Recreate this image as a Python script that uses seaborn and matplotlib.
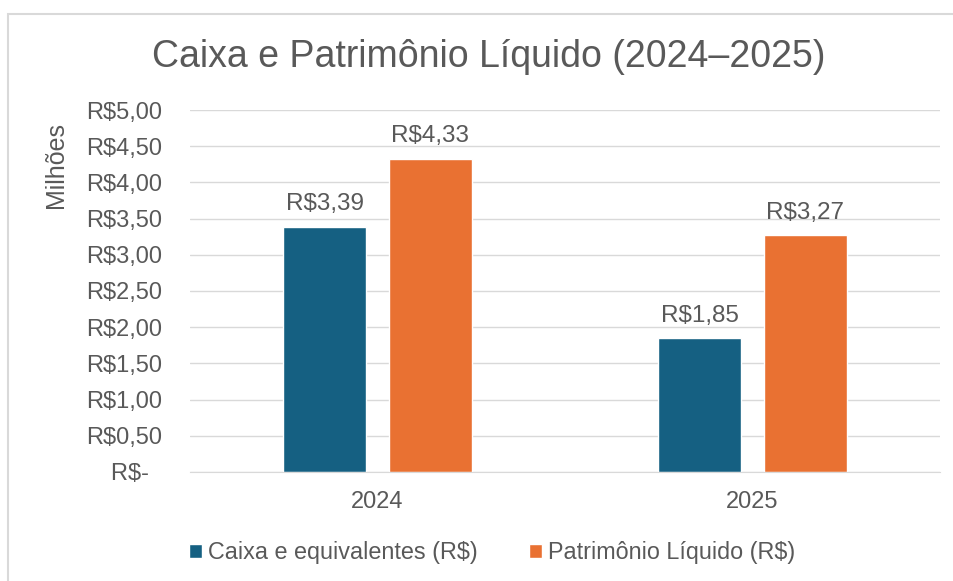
import pandas as pd
import seaborn as sns
import matplotlib.pyplot as plt
from matplotlib.patches import Rectangle
from matplotlib.ticker import FuncFormatter, MultipleLocator

# data (milhões de R$)
anos = ['2024', '2025']
series = ['Caixa e equivalentes (R$)', 'Patrimônio Líquido (R$)']
caixa = [3.39, 1.85]
patrimonio = [4.33, 3.27]
cores = ['#156082', '#E97132']

df = pd.DataFrame({
    'ano': anos * 2,
    'serie': [series[0]] * 2 + [series[1]] * 2,
    'valor': caixa + patrimonio,
})

sns.set_style('white')
plt.rcParams['font.family'] = ['Liberation Sans', 'DejaVu Sans']
cinza = '#595959'

fig = plt.figure(figsize=(9.54, 5.81), dpi=100)
ax = fig.add_axes([190 / 954, 1 - 472 / 581, 750 / 954, 362 / 581])

sns.barplot(data=df, x='ano', y='valor', hue='serie', palette=cores,
            width=0.565, gap=0.217, ax=ax, saturation=1, legend=True)


def brl(v, pos=None):
    if abs(v) < 1e-9:
        return 'R$-  '
    return 'R$' + f'{v:.2f}'.replace('.', ',')


ax.set_ylim(0, 5)
ax.yaxis.set_major_locator(MultipleLocator(0.5))
ax.yaxis.set_major_formatter(FuncFormatter(brl))
ax.grid(axis='y', color='#d9d9d9', linewidth=1)
ax.set_axisbelow(True)
for s in ['top', 'right', 'left']:
    ax.spines[s].set_visible(False)
ax.spines['bottom'].set_color('#d9d9d9')
ax.tick_params(axis='both', length=0, labelsize=17, labelcolor=cinza)
ax.tick_params(axis='y', pad=20)
ax.tick_params(axis='x', pad=14)
ax.set_xlabel('')
ax.set_ylabel('')

# data labels
for cont in ax.containers:
    ax.bar_label(cont, labels=[brl(v) for v in cont.datavalues],
                 padding=8, fontsize=17.5, color=cinza)

ax.legend(loc='upper center', bbox_to_anchor=(0.5 - 73 / 750, -0.133),
          ncol=2, frameon=False, fontsize=16.8, labelcolor=cinza,
          handlelength=0.55, handleheight=0.55, handletextpad=0.25,
          columnspacing=2.2)

fig.text(0.5 + 12 / 954, 1 - 57 / 581, 'Caixa e Patrimônio Líquido (2024–2025)',
         ha='center', va='center', fontsize=27, color=cinza)
fig.text(56 / 954, 1 - 165 / 581, 'Milhões', rotation=90,
         ha='center', va='center', fontsize=18, color=cinza)

# chart border
fig.patches.append(Rectangle((8 / 954, -0.1), 1.2, 1.1 - 14 / 581,
                             transform=fig.transFigure, fill=False,
                             edgecolor='#d9d9d9', linewidth=1.5))

fig.savefig('out.png', dpi=100)
